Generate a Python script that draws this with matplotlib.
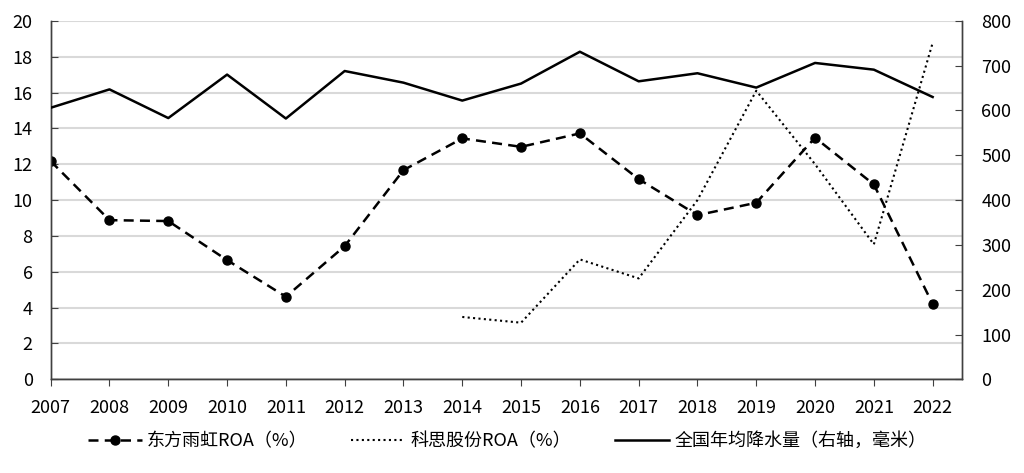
import matplotlib
matplotlib.use("Agg")
import matplotlib.pyplot as plt

plt.rcParams['font.family'] = ['Noto Sans CJK SC', 'DejaVu Sans']

years = list(range(2007, 2023))
dongfang_roa = [12.17, 8.88, 8.83, 6.65, 4.61, 7.43, 11.67, 13.44, 12.97, 13.72,
                11.17, 9.16, 9.85, 13.48, 10.87, 4.2]
kesi_years = list(range(2014, 2023))
kesi_roa = [3.48, 3.16, 6.69, 5.63, 10.0, 16.1, 12.0, 7.53, 18.77]
rain = [606, 647, 583, 680, 582, 688, 662, 622, 660, 731, 665, 683, 651, 706, 691, 630]

labels = ['东方雨虹ROA（%）', '科思股份ROA（%）', '全国年均降水量（右轴，毫米）']

fig = plt.figure(figsize=(10.24, 4.73), dpi=100)
ax = fig.add_axes([0.0495, 0.198, 0.89, 0.758])
ax2 = ax.twinx()

l1, = ax.plot(years, dongfang_roa, color='black', lw=1.8, ls=(0, (4, 2.5)),
              marker='o', markersize=6.5, label=labels[0], zorder=3)
l2, = ax.plot(kesi_years, kesi_roa, color='black', lw=1.5, ls=(0, (1, 1.6)),
              label=labels[1], zorder=3)
l3, = ax2.plot(years, rain, color='black', lw=1.8, label=labels[2], zorder=3)

ax.set_xlim(2007, 2022.5)
ax.set_ylim(0, 20)
ax2.set_ylim(0, 800)
ax.set_yticks(range(0, 21, 2))
ax2.set_yticks(range(0, 801, 100))
ax.set_xticks(years)
ax.set_xticklabels([str(y) for y in years])

ax.grid(axis='y', color='#d9d9d9', lw=1.5)
ax.set_axisbelow(True)
for a in (ax, ax2):
    a.spines['top'].set_visible(False)
    for s in ('left', 'right', 'bottom'):
        a.spines[s].set_color('#404040')
        a.spines[s].set_linewidth(1.0)
ax.tick_params(axis='y', direction='in', length=5, labelsize=13, pad=13, color='#404040')
ax.tick_params(axis='x', direction='out', length=5, labelsize=13, pad=9, color='#404040')
ax2.tick_params(axis='y', direction='in', length=5, labelsize=13, pad=14, color='#404040')

fig.legend(handles=[l1, l2, l3], labels=labels, loc='center', bbox_to_anchor=(0.495, 0.068),
           ncol=3, frameon=False, fontsize=13, handlelength=3.0, columnspacing=2.4,
           handletextpad=0.3)

fig.savefig('out.png', dpi=100)
